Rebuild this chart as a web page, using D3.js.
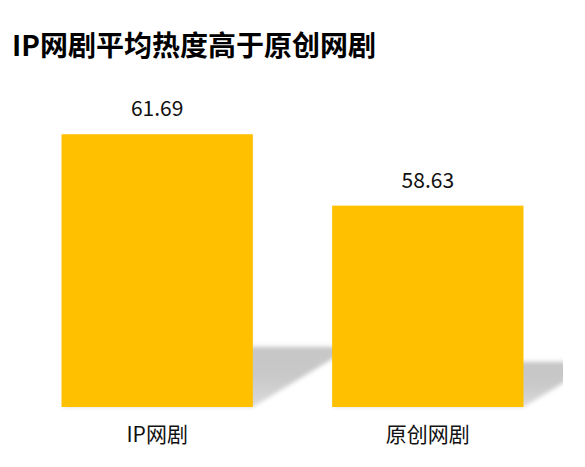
<!DOCTYPE html>
<html>
<head>
<meta charset="utf-8">
<script src="https://cdn.jsdelivr.net/npm/d3@7"></script>
<style>
  html, body { margin: 0; padding: 0; background: #fff; }
  svg { display: block; font-family: "Noto Sans CJK SC", "Noto Sans", sans-serif; }
</style>
</head>
<body>
<svg id="chart"></svg>
<script>
const WIDTH = 585;
const HEIGHT = 467;

const title = "IP网剧平均热度高于原创网剧";
const categories = ["IP网剧", "原创网剧"];
const values = [61.69, 58.63];
const yDomain = [50, 62];

const svg = d3.select("#chart").attr("width", WIDTH).attr("height", HEIGHT);

const plot = { left: 22, right: 563, top: 127, bottom: 407 };

const xScale = d3
  .scaleBand()
  .domain(categories)
  .range([plot.left, plot.right])
  .paddingInner(0.293)
  .paddingOuter(0.146);

const yScale = d3
  .scaleLinear()
  .domain(yDomain)
  .range([plot.bottom, plot.top]);

const defs = svg.append("defs");

defs
  .append("clipPath")
  .attr("id", "plot-area")
  .append("rect")
  .attr("x", plot.left)
  .attr("y", 0)
  .attr("width", plot.right - plot.left)
  .attr("height", HEIGHT);

const grad = defs
  .append("linearGradient")
  .attr("id", "shadow-grad")
  .attr("x1", 0).attr("y1", 1)
  .attr("x2", 0).attr("y2", 0);
grad.append("stop").attr("offset", "0%").attr("stop-color", "#dadada");
grad.append("stop").attr("offset", "50%").attr("stop-color", "#c9c9c9");
grad.append("stop").attr("offset", "100%").attr("stop-color", "#c6c6c6");

defs
  .append("filter")
  .attr("id", "soft")
  .attr("x", "-20%").attr("y", "-20%")
  .attr("width", "140%").attr("height", "140%")
  .append("feGaussianBlur")
  .attr("stdDeviation", 2);

const data = categories.map((c, i) => ({ category: c, value: values[i] }));

// perspective shadow behind each bar, leaning up and to the right
svg
  .append("g")
  .attr("clip-path", "url(#plot-area)")
  .selectAll("path")
  .data(data)
  .join("path")
  .attr("fill", "url(#shadow-grad)")
  .attr("filter", "url(#soft)")
  .attr("d", (d) => {
    const x0 = xScale(d.category);
    const x1 = x0 + xScale.bandwidth();
    const base = yScale(yDomain[0]);
    const barH = base - yScale(d.value);
    const dy = barH * 0.21 + 3;
    const dx = dy * 1.65;
    return `M${x0},${base}L${x1},${base}L${x1 + dx},${base - dy}L${x0 + dx},${base - dy}Z`;
  });

svg
  .append("g")
  .selectAll("rect")
  .data(data)
  .join("rect")
  .attr("x", (d) => xScale(d.category))
  .attr("width", xScale.bandwidth())
  .attr("y", (d) => yScale(d.value))
  .attr("height", (d) => yScale(yDomain[0]) - yScale(d.value))
  .attr("fill", "#FFC000");

svg
  .append("g")
  .selectAll("text")
  .data(data)
  .join("text")
  .attr("x", (d) => xScale(d.category) + xScale.bandwidth() / 2)
  .attr("y", (d) => yScale(d.value) - 18)
  .attr("text-anchor", "middle")
  .attr("font-size", 21)
  .attr("fill", "#111")
  .text((d) => d.value.toFixed(2));

const xAxis = svg
  .append("g")
  .attr("transform", `translate(0, ${plot.bottom})`)
  .call(d3.axisBottom(xScale).tickSize(0).tickPadding(20));
xAxis.select(".domain").remove();
xAxis
  .selectAll("text")
  .attr("font-size", 21)
  .attr("font-family", "'Noto Sans CJK SC', sans-serif")
  .attr("fill", "#111");

svg
  .append("text")
  .attr("x", 12)
  .attr("y", 56)
  .attr("font-size", 28)
  .attr("font-weight", "bold")
  .attr("fill", "#000")
  .text(title);
</script>
</body>
</html>
